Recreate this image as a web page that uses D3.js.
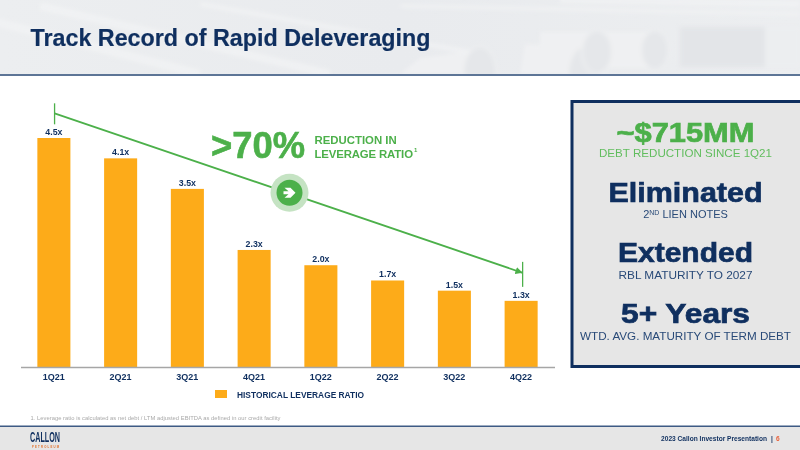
<!DOCTYPE html>
<html>
<head>
<meta charset="utf-8">
<script src="https://cdn.jsdelivr.net/npm/d3@7"></script>
<style>
html, body { margin: 0; padding: 0; background: #fff; }
svg { display: block; }
text { font-family: "Liberation Sans", Arial, sans-serif; }
</style>
</head>
<body>
<svg width="800" height="450"></svg>
<script>
var quarters = ["1Q21", "2Q21", "3Q21", "4Q21", "1Q22", "2Q22", "3Q22", "4Q22"];
var leverage = [4.5, 4.1, 3.5, 2.3, 2.0, 1.7, 1.5, 1.3];
var trendValues = [4.985, 1.85];
var legendLabel = "HISTORICAL LEVERAGE RATIO";
var panelHeads = ["~$715MM", "Eliminated", "Extended", "5+ Years"];
var panelSubs = ["DEBT REDUCTION SINCE 1Q21", "LIEN NOTES", "RBL MATURITY TO 2027", "WTD. AVG. MATURITY OF TERM DEBT"];

var navy = "#0f2f5f", green = "#4cb04a", orange = "#fdab19";
var svg = d3.select("svg");
var defs = svg.append("defs");

var grad = defs.append("linearGradient").attr("id", "head").attr("x1", 0).attr("x2", 1).attr("y1", 0).attr("y2", 0);
grad.append("stop").attr("offset", "0%").attr("stop-color", "#eceef0");
grad.append("stop").attr("offset", "50%").attr("stop-color", "#e9ebee");
grad.append("stop").attr("offset", "100%").attr("stop-color", "#eceef0");
defs.append("marker").attr("id", "arrow").attr("viewBox", "0 0 10 10").attr("refX", 10).attr("refY", 5)
    .attr("markerWidth", 4).attr("markerHeight", 4).attr("orient", "auto")
    .append("path").attr("d", "M0,0L10,5L0,10Z").attr("fill", green);
defs.append("clipPath").attr("id", "headClip").append("rect").attr("width", 800).attr("height", 74);
defs.append("filter").attr("id", "soft").append("feGaussianBlur").attr("stdDeviation", 2);

// header band with faint pipes
svg.append("rect").attr("width", 800).attr("height", 74).attr("fill", "url(#head)");
var pipes = svg.append("g").attr("clip-path", "url(#headClip)").append("g").attr("filter", "url(#soft)");
[[-20, 18, 200, 74, 9], [40, 6, 330, 74, 8], [200, 4, 470, 52, 5], [400, 6, 800, 14, 4], [560, 0, 800, 4, 6]].forEach(function(s) {
    pipes.append("line").attr("x1", s[0]).attr("y1", s[1]).attr("x2", s[2]).attr("y2", s[3])
        .attr("stroke", "#f3f4f5").attr("stroke-width", s[4]).attr("opacity", 0.7);
});
[[420, 58, 480, 50, 480, 74, 400, 74], [525, 44, 585, 48, 585, 74, 520, 74], [540, 32, 597, 32, 597, 60, 540, 60],
 [600, 32, 655, 32, 655, 68, 600, 68]].forEach(function(q) {
    pipes.append("polygon").attr("points", q.join(",")).attr("fill", "#eff0f2");
});
pipes.append("rect").attr("x", 680).attr("y", 27).attr("width", 120).attr("height", 40).attr("fill", "#e3e5e8");
pipes.append("rect").attr("x", 765).attr("y", 27).attr("width", 35).attr("height", 40).attr("fill", "#eceef0");
[[480, 74, 17, 28], [585, 76, 17, 30], [597, 52, 15, 22], [655, 50, 14, 20]].forEach(function(p) {
    pipes.append("ellipse").attr("cx", p[0]).attr("cy", p[1]).attr("rx", p[2]).attr("ry", p[3])
        .attr("fill", "#e5e7ea").attr("stroke", "#f1f2f3").attr("stroke-width", 1.5);
});
svg.append("rect").attr("y", 74).attr("width", 800).attr("height", 2).attr("fill", "#5d7596");
svg.append("text").attr("x", 30.5).attr("y", 46).attr("fill", navy).attr("font-size", 23).attr("font-weight", 700)
    .attr("stroke", navy).attr("stroke-width", 0.2)
    .attr("textLength", 400).attr("lengthAdjust", "spacingAndGlyphs").text("Track Record of Rapid Deleveraging");

// chart
var x = d3.scaleBand().domain(quarters).range([20.5, 554.5]).paddingInner(0.505).paddingOuter(0.2525);
var y = d3.scaleLinear().domain([0, 4.5]).range([367, 138]);

svg.append("g").selectAll("rect").data(leverage).join("rect")
    .attr("x", (d, i) => x(quarters[i]))
    .attr("y", d => y(d))
    .attr("width", x.bandwidth())
    .attr("height", d => y(0) - y(d))
    .attr("fill", orange);

svg.append("g").selectAll("text").data(leverage).join("text")
    .attr("x", (d, i) => x(quarters[i]) + x.bandwidth() / 2)
    .attr("y", d => y(d) - 3)
    .attr("text-anchor", "middle").attr("font-size", 8.8).attr("font-weight", 700).attr("fill", navy)
    .text(d => d.toFixed(1) + "x");

var xAxis = d3.axisBottom(x).tickSize(0).tickPadding(7);
var axisG = svg.append("g").attr("transform", "translate(0," + y(0) + ")").call(xAxis);
axisG.select(".domain").attr("stroke", "#a6a6a6").attr("stroke-width", 1.5);
axisG.selectAll("text").attr("font-family", "Liberation Sans").attr("font-size", 9).attr("font-weight", 700).attr("fill", navy);

// trend line between first and last quarter
var x0 = x(quarters[0]) + x.bandwidth() / 2 + 0.7, x1 = x(quarters[7]) + x.bandwidth() / 2 + 1.5;
var y0 = y(trendValues[0]), y1 = y(trendValues[1]);
svg.append("line").attr("x1", x0).attr("y1", y0).attr("x2", x1).attr("y2", y1)
    .attr("stroke", green).attr("stroke-width", 1.8).attr("marker-end", "url(#arrow)");
svg.append("line").attr("x1", x0).attr("x2", x0).attr("y1", y0 - 10).attr("y2", y0 + 11).attr("stroke", green).attr("stroke-width", 1.3);
svg.append("line").attr("x1", x1).attr("x2", x1).attr("y1", y1 - 11).attr("y2", y1 + 14).attr("stroke", green).attr("stroke-width", 1.3);

// badge on the line
var badge = svg.append("g").attr("transform", "translate(289.5,192.7)");
badge.append("circle").attr("r", 19).attr("fill", "#c5e3c3");
badge.append("circle").attr("r", 13).attr("fill", green);
badge.append("path").attr("d", "M-5,-5L1,-5L6,0L1,5L-5,5L-1,1.5L-6,1.5L-6,-1.5L-1,-1.5Z").attr("fill", "#fff");

svg.append("text").attr("x", 211).attr("y", 158).attr("fill", green).attr("font-size", 36).attr("font-weight", 700)
    .attr("stroke", green).attr("stroke-width", 0.6)
    .attr("textLength", 94).attr("lengthAdjust", "spacingAndGlyphs").text(">70%");
svg.append("text").attr("x", 314.5).attr("y", 144).attr("fill", green).attr("font-size", 11.4).attr("font-weight", 700).text("REDUCTION IN");
svg.append("text").attr("x", 314.5).attr("y", 157.7).attr("fill", green).attr("font-size", 11.4).attr("font-weight", 700)
    .attr("textLength", 98.5).text("LEVERAGE RATIO");
svg.append("text").attr("x", 414).attr("y", 152).attr("fill", green).attr("font-size", 6).attr("font-weight", 700).text("1");

// legend
svg.append("rect").attr("x", 215).attr("y", 390).attr("width", 12).attr("height", 8).attr("fill", orange);
svg.append("text").attr("x", 237).attr("y", 397.5).attr("fill", navy).attr("font-size", 8.8).attr("font-weight", 700)
    .attr("textLength", 127).attr("lengthAdjust", "spacingAndGlyphs").text(legendLabel);

svg.append("text").attr("x", 30.5).attr("y", 420).attr("fill", "#a9a9a9").attr("font-size", 5.8)
    .attr("textLength", 250).text("1.  Leverage ratio is calculated as net debt / LTM adjusted EBITDA as defined in our credit facility");

// right panel
svg.append("rect").attr("x", 572).attr("y", 101.5).attr("width", 232).attr("height", 265)
    .attr("fill", "#e6e6e6").attr("stroke", navy).attr("stroke-width", 3);
var headY = [141.5, 201.7, 262, 322.5], subY = [156.7, 218.3, 279, 340], cx = 685.5;
var headW = [138, 154, 135, 129], subW = [173, 0, 134, 211];
panelHeads.forEach(function(h, i) {
    var isGreen = i == 0;
    svg.append("text").attr("x", cx).attr("y", headY[i]).attr("text-anchor", "middle")
        .attr("font-size", 27.5).attr("font-weight", 700).attr("fill", isGreen ? green : navy)
        .attr("stroke", isGreen ? green : navy).attr("stroke-width", 0.7)
        .attr("textLength", headW[i]).attr("lengthAdjust", "spacingAndGlyphs").text(h);
    var sub = svg.append("text").attr("x", cx).attr("y", subY[i]).attr("text-anchor", "middle")
        .attr("font-size", 11).attr("fill", isGreen ? "#61bd5e" : "#294a78");
    if (i == 1) {
        sub.append("tspan").text("2");
        sub.append("tspan").attr("font-size", 7).attr("dy", -3.5).text("ND");
        sub.append("tspan").attr("dy", 3.5).text(" " + panelSubs[i]);
    } else {
        sub.attr("textLength", subW[i]).attr("lengthAdjust", "spacingAndGlyphs").text(panelSubs[i]);
    }
});

// footer
svg.append("rect").attr("y", 427).attr("width", 800).attr("height", 23).attr("fill", "#e6e6e6");
svg.append("rect").attr("y", 425.5).attr("width", 800).attr("height", 1.5).attr("fill", "#3d5a84");
svg.append("text").attr("x", 30).attr("y", 441.8).attr("fill", navy).attr("font-size", 14).attr("font-weight", 700)
    .attr("textLength", 30).attr("lengthAdjust", "spacingAndGlyphs").text("CALLON");
svg.append("text").attr("x", 32).attr("y", 447.6).attr("fill", "#e2702a").attr("font-size", 2.8).attr("font-weight", 700)
    .attr("textLength", 27).text("PETROLEUM");
svg.append("text").attr("x", 767).attr("y", 441).attr("text-anchor", "end").attr("fill", navy).attr("font-size", 6.6).attr("font-weight", 700)
    .text("2023 Callon Investor Presentation");
svg.append("text").attr("x", 771).attr("y", 441).attr("fill", navy).attr("font-size", 6.6).attr("font-weight", 700).text("|");
svg.append("text").attr("x", 776).attr("y", 441).attr("fill", "#e8603a").attr("font-size", 6.6).attr("font-weight", 700).text("6");
</script>
</body>
</html>
